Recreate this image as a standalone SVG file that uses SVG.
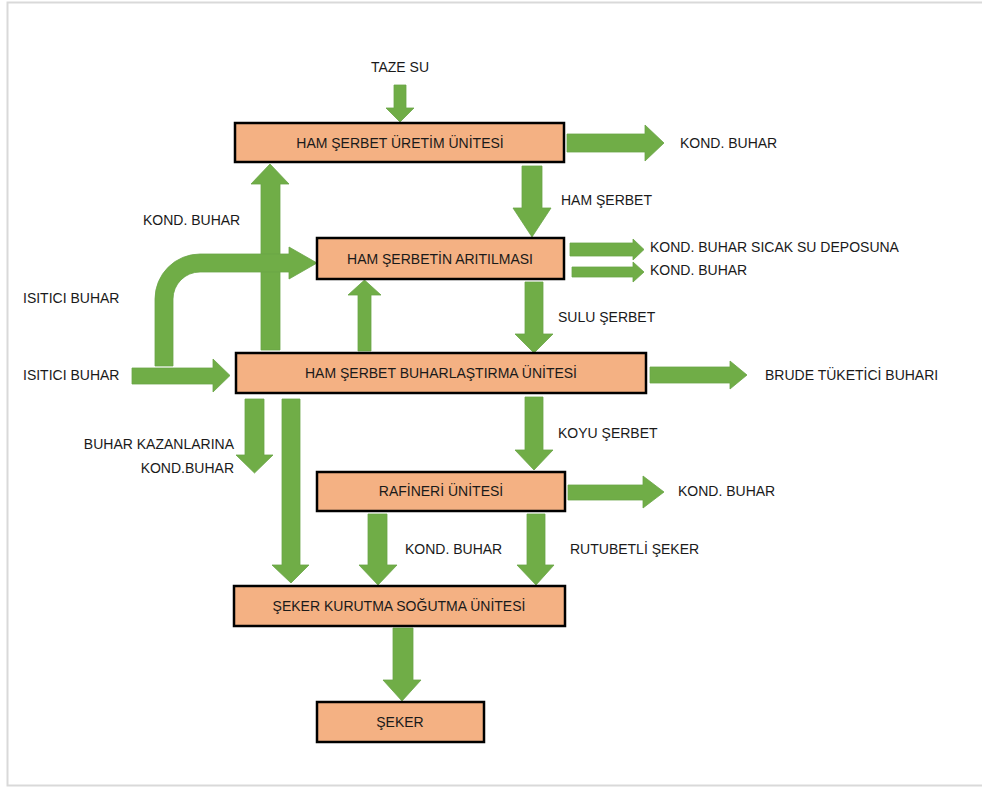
<svg xmlns="http://www.w3.org/2000/svg" width="982" height="787" viewBox="0 0 982 787">
<style>
.box{fill:#F4B183;stroke:#000;stroke-width:2.5}
.arr{fill:#70AD47;stroke:#6AA546;stroke-width:0.8}
.t{font-family:"Liberation Sans",Arial,sans-serif;font-size:14px;fill:#1a1a1a}
.c{text-anchor:middle}
.e{text-anchor:end}
</style>
<rect x="0" y="0" width="982" height="787" fill="#fff"/>
<rect x="7.5" y="2.5" width="990" height="783" fill="none" stroke="#D9D9D9" stroke-width="2"/>
<g id="connectors">
<path class="arr" d="M394,85 L406,85 L406,108 L414,108 L400,122 L386,108 L394,108 Z"/>
<path class="arr" d="M567,134 L645,134 L645,125 L664,143 L645,161 L645,152 L567,152 Z"/>
<path class="arr" d="M522,166 L542,166 L542,208 L551,208 L532,237 L513,208 L522,208 Z"/>
<path class="arr" d="M570,243 L633,243 L633,239 L644,249.5 L633,260 L633,256 L570,256 Z"/>
<path class="arr" d="M572,267 L633,267 L633,262 L644,272 L633,282 L633,277 L572,277 Z"/>
<path class="arr" d="M525,282 L543,282 L543,334 L553,334 L534,353 L515,334 L525,334 Z"/>
<path class="arr" d="M650,367 L730,367 L730,361 L747,375 L730,389 L730,383 L650,383 Z"/>
<path class="arr" d="M132,368 L213,368 L213,359 L230,375.5 L213,392 L213,384 L132,384 Z"/>
<path class="arr" d="M261,350 L261,184 L251,184 L270,164 L289,184 L280,184 L280,350 Z"/>
<path class="arr" d="M155,366 L155,299 A45,45 0 0 1 200,254 L289,254 L289,247 L317,263 L289,279 L289,272 L200,272 A27,27 0 0 0 173,299 L173,366 Z"/>
<path class="arr" d="M358,351 L358,295 L348,295 L364.5,280 L381,295 L371,295 L371,351 Z"/>
<path class="arr" d="M245,399 L264,399 L264,455 L273,455 L254.5,473 L236,455 L245,455 Z"/>
<path class="arr" d="M282,399 L300,399 L300,565 L309,565 L291,583 L272,565 L282,565 Z"/>
<path class="arr" d="M525,397 L543,397 L543,450 L553,450 L534,470 L515,450 L525,450 Z"/>
<path class="arr" d="M568,485 L643,485 L643,476 L664,492 L643,508 L643,500 L568,500 Z"/>
<path class="arr" d="M368,514 L387,514 L387,565 L397,565 L378,585 L359,565 L368,565 Z"/>
<path class="arr" d="M527,514 L545,514 L545,565 L554,565 L536,585 L517,565 L527,565 Z"/>
<path class="arr" d="M393,628 L413,628 L413,680 L421,680 L402,701 L383,680 L393,680 Z"/>
</g>
<g id="labels">
<text class="t c" x="400" y="72">TAZE SU</text>
<text class="t" x="680" y="148">KOND. BUHAR</text>
<text class="t" x="561" y="205">HAM ŞERBET</text>
<text class="t" x="143" y="225">KOND. BUHAR</text>
<text class="t" x="650" y="252">KOND. BUHAR SICAK SU DEPOSUNA</text>
<text class="t" x="650" y="275">KOND. BUHAR</text>
<text class="t" x="23" y="303">ISITICI BUHAR</text>
<text class="t" x="558" y="322">SULU ŞERBET</text>
<text class="t" x="23" y="380">ISITICI BUHAR</text>
<text class="t" x="765" y="380">BRUDE TÜKETİCİ BUHARI</text>
<text class="t e" x="234" y="449">BUHAR KAZANLARINA</text>
<text class="t e" x="234" y="473">KOND.BUHAR</text>
<text class="t" x="558" y="438">KOYU ŞERBET</text>
<text class="t" x="678" y="496">KOND. BUHAR</text>
<text class="t" x="405" y="554">KOND. BUHAR</text>
<text class="t" x="570" y="554">RUTUBETLİ ŞEKER</text>
</g>
<g id="n1"><rect class="box" x="235" y="123" width="329" height="39"/><text class="t c" x="400" y="148">HAM ŞERBET ÜRETİM ÜNİTESİ</text></g>
<g id="n2"><rect class="box" x="317" y="238" width="247" height="41"/><text class="t c" x="440" y="264">HAM ŞERBETİN ARITILMASI</text></g>
<g id="n3"><rect class="box" x="236" y="353" width="410" height="40"/><text class="t c" x="441" y="378">HAM ŞERBET BUHARLAŞTIRMA ÜNİTESİ</text></g>
<g id="n4"><rect class="box" x="317" y="472" width="248" height="39"/><text class="t c" x="441" y="496">RAFİNERİ ÜNİTESİ</text></g>
<g id="n5"><rect class="box" x="234" y="586" width="331" height="40"/><text class="t c" x="399" y="611">ŞEKER KURUTMA SOĞUTMA ÜNİTESİ</text></g>
<g id="n6"><rect class="box" x="317" y="702" width="167" height="40"/><text class="t c" x="400" y="727">ŞEKER</text></g>
</svg>
